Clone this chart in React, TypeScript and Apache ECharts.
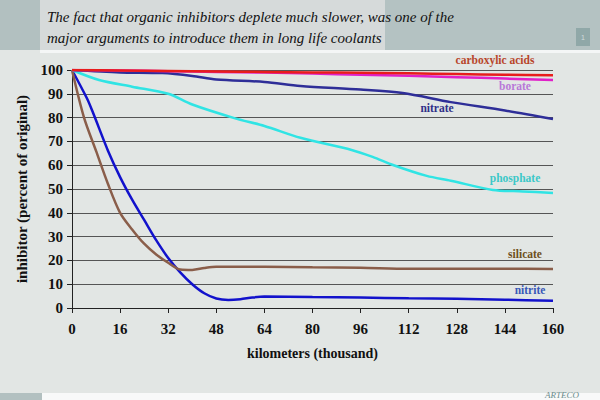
import React, { useEffect, useRef } from "react";
import * as echarts from "echarts";

const xTicks = [0, 16, 32, 48, 64, 80, 96, 112, 128, 144, 160];

const carboxylicX = [0, 16, 32, 48, 64, 80, 96, 112, 128, 144, 160];
const carboxylicY = [100, 99.8, 99.6, 99.4, 99.2, 99, 98.8, 98.6, 98.3, 98, 97.8];

const borateX = [0, 16, 32, 48, 64, 80, 96, 112, 128, 144, 160];
const borateY = [100, 99.8, 99.5, 99.2, 98.9, 98.5, 98, 97.6, 97, 96.4, 95.8];

const nitrateX = [0, 16, 30, 40, 48, 64, 76, 96, 110, 126, 144, 160];
const nitrateY = [100, 99, 98.7, 97.5, 96, 95, 93.3, 91.8, 90.3, 86.5, 83, 79.4];

const phosphateX = [0, 9, 20, 32, 40, 54, 64, 76, 93, 100, 107, 118, 126, 140, 150, 160];
const phosphateY = [100, 95.8, 93, 90, 85.5, 79.8, 76.5, 71.5, 66.4, 63.5, 60, 55.5, 53.5, 49.6, 49, 48.3];

const silicateX = [0, 4, 8, 12, 16, 20, 24, 28, 32, 36, 40, 44, 48, 64, 80, 96, 112, 128, 144, 160];
const silicateY = [100, 80, 66, 52, 40, 33, 27, 22.5, 19, 16.2, 16, 16.8, 17.3, 17.3, 17.1, 16.9, 16.5, 16.5, 16.5, 16.4];

const nitriteX = [0, 5, 7, 12, 16, 20, 24, 28, 32, 36, 40, 44, 48, 52, 56, 60, 64, 80, 96, 112, 128, 144, 160];
const nitriteY = [100, 88, 82, 66, 55, 45.5, 37, 28.5, 21, 15, 10, 6.2, 4, 3.4, 3.7, 4.4, 4.8, 4.6, 4.4, 4.1, 3.9, 3.5, 3];

const seriesNames = ["carboxylic acids", "borate", "nitrate", "phosphate", "silicate", "nitrite"];
const lineColors = ["#e81c1c", "#e020c8", "#2e2e98", "#30e4e4", "#8a5e4a", "#1212cc"];
const labelColors = ["#b8452a", "#b878d8", "#303088", "#3cc8c8", "#6e5020", "#3858b8"];
const labelPos: [number, number][] = [
  [495, 60],
  [515, 86],
  [437, 108],
  [515, 178],
  [525, 254],
  [530, 290],
];

const title1 = "The fact that organic inhibitors deplete much slower, was one of the";
const title2 = "major arguments to introduce them in long life coolants";

function pairs(xs: number[], ys: number[]) {
  return xs.map((x, i) => [x, ys[i]]);
}

export default function App() {
  const ref = useRef<HTMLDivElement>(null);
  useEffect(() => {
    if (!ref.current) return;
    const chart = echarts.init(ref.current, undefined, { renderer: "svg" });
    const allX = [carboxylicX, borateX, nitrateX, phosphateX, silicateX, nitriteX];
    const allY = [carboxylicY, borateY, nitrateY, phosphateY, silicateY, nitriteY];
    const serif = "Liberation Serif";
    chart.setOption({
      animation: false,
      backgroundColor: "#e2e6e4",
      textStyle: { fontFamily: serif },
      grid: { left: 72, right: 47, top: 70, bottom: 92 },
      xAxis: {
        type: "value",
        min: 0,
        max: 160,
        interval: 16,
        name: "kilometers (thousand)",
        nameLocation: "middle",
        nameGap: 38,
        nameTextStyle: { fontFamily: serif, fontWeight: "bold", fontSize: 14, color: "#111" },
        axisLine: { lineStyle: { color: "#222", width: 1 } },
        axisTick: { show: true, length: 5, lineStyle: { color: "#222" } },
        axisLabel: {
          fontFamily: serif,
          fontWeight: "bold",
          fontSize: 15,
          color: "#111",
          margin: 13,
          formatter: (v: number) => (xTicks.includes(v) ? String(v) : ""),
        },
        splitLine: { show: false },
      },
      yAxis: {
        type: "value",
        min: 0,
        max: 100,
        interval: 10,
        name: "inhibitor (percent of original)",
        nameLocation: "middle",
        nameGap: 42,
        nameRotate: 90,
        nameTextStyle: { fontFamily: serif, fontWeight: "bold", fontSize: 15, color: "#111" },
        axisLine: { show: true, lineStyle: { color: "#222", width: 1 } },
        axisTick: { show: true, length: 5, lineStyle: { color: "#222" } },
        axisLabel: { fontFamily: serif, fontWeight: "bold", fontSize: 15, color: "#111", margin: 9 },
        splitLine: { show: true, lineStyle: { color: "#555", width: 1 } },
      },
      series: seriesNames.map((n, i) => ({
        name: n,
        type: "line",
        data: pairs(allX[i], allY[i]),
        smooth: 0.3,
        showSymbol: false,
        lineStyle: { color: lineColors[i], width: 2.5 },
        z: 10 - i,
      })),
      graphic: [
        { type: "rect", shape: { x: 0, y: 0, width: 40, height: 50 }, style: { fill: "#b2c0c0" }, silent: true },
        { type: "rect", shape: { x: 40, y: 0, width: 345, height: 50 }, style: { fill: "#d6dada" }, silent: true },
        { type: "rect", shape: { x: 385, y: 0, width: 215, height: 50 }, style: { fill: "#b4c2c2" }, silent: true },
        { type: "rect", shape: { x: 40, y: 50, width: 560, height: 3 }, style: { fill: "#f4f6f6" }, silent: true },
        { type: "rect", shape: { x: 576, y: 28, width: 14, height: 18 }, style: { fill: "#90a8a8" }, silent: true },
        { type: "text", x: 583, y: 37, style: { text: "1", fill: "#d0dcdc", fontSize: 7, align: "center", verticalAlign: "middle" }, silent: true },
        { type: "rect", shape: { x: 0, y: 393, width: 600, height: 7 }, style: { fill: "#f8f9f9" }, silent: true },
        { type: "rect", shape: { x: 0, y: 393, width: 42, height: 7 }, style: { fill: "#b2c0c0" }, silent: true },
        { type: "text", x: 562, y: 399, style: { text: "ARTECO", fill: "#6a8c8c", fontSize: 9, fontStyle: "italic", fontFamily: serif, align: "center", verticalAlign: "bottom" }, silent: true },
        { type: "text", x: 47, y: 17, style: { text: title1, fill: "#111", fontSize: 15, fontStyle: "italic", fontFamily: serif, verticalAlign: "middle" }, silent: true },
        { type: "text", x: 47, y: 38, style: { text: title2, fill: "#111", fontSize: 15, fontStyle: "italic", fontFamily: serif, verticalAlign: "middle" }, silent: true },
        ...seriesNames.map((n, i) => ({
          type: "text",
          x: labelPos[i][0],
          y: labelPos[i][1],
          z: 100,
          style: {
            text: n,
            fill: labelColors[i],
            fontSize: 11.5,
            fontWeight: "bold",
            fontFamily: serif,
            align: "center",
            verticalAlign: "middle",
          },
          silent: true,
        })),
      ],
    });
    return () => chart.dispose();
  }, []);
  return <div ref={ref} style={{ width: 600, height: 400, position: "absolute", left: 0, top: 0 }} />;
}
